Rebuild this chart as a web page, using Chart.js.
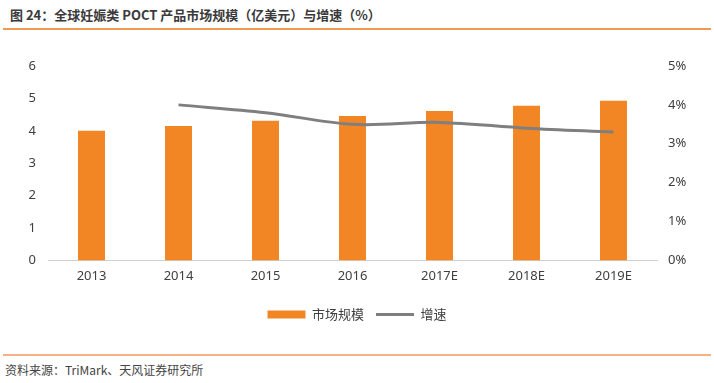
<!DOCTYPE html>
<html>
<head>
<meta charset="utf-8">
<script src="https://cdn.jsdelivr.net/npm/chart.js@4.4.0/dist/chart.umd.min.js"></script>
<style>
  html, body { margin: 0; padding: 0; background: #fff; }
  body { width: 714px; height: 383px; position: relative; overflow: hidden; font-family: "Noto Sans CJK SC", "Noto Sans", sans-serif; }
  #title { position: absolute; left: 10px; top: 5px; font-size: 13px; font-weight: bold; color: #3a3a3a; white-space: nowrap; }
  #topline { position: absolute; left: 3px; top: 28px; width: 708px; height: 2px; background: #ef9a50; }
  #botline { position: absolute; left: 3px; top: 354px; width: 708px; height: 2px; background: #f3b184; }
  #source { position: absolute; left: 5px; top: 361px; font-size: 12px; color: #444; white-space: nowrap; }
  #wrap { position: absolute; left: 0; top: 40px; width: 714px; height: 295px; }
</style>
</head>
<body>
<div id="title">图 24：全球妊娠类 POCT 产品市场规模（亿美元）与增速（%）</div>
<div id="topline"></div>
<div id="wrap"><canvas id="c"></canvas></div>
<div id="botline"></div>
<div id="source">资料来源：TriMark、天风证券研究所</div>
<script>
const categories = ["2013", "2014", "2015", "2016", "2017E", "2018E", "2019E"];
const marketSize = [4.0, 4.15, 4.31, 4.46, 4.61, 4.77, 4.93];
const growthRate = [null, 4.0, 3.8, 3.5, 3.55, 3.4, 3.3];
const seriesNames = ["市场规模", "增速"];

new Chart(document.getElementById("c"), {
  data: {
    labels: categories,
    datasets: [
      {
        type: "line",
        label: seriesNames[1],
        data: growthRate,
        yAxisID: "y1",
        borderColor: "#7f7f7f",
        backgroundColor: "#7f7f7f",
        borderWidth: 3,
        pointRadius: 0,
        tension: 0.35,
        pointStyle: "line",
        order: 0
      },
      {
        type: "bar",
        label: seriesNames[0],
        data: marketSize,
        yAxisID: "y",
        backgroundColor: "#f28625",
        borderWidth: 0,
        categoryPercentage: 1,
        barPercentage: 0.31,
        pointStyle: "rect",
        order: 1
      }
    ]
  },
  options: {
    responsive: true,
    maintainAspectRatio: false,
    animation: false,
    layout: { padding: { top: 26, left: 0, right: 0, bottom: 4 } },
    plugins: {
      tooltip: { enabled: false },
      legend: {
        position: "bottom",
        reverse: true,
        labels: {
          usePointStyle: true,
          pointStyleWidth: 38,
          boxHeight: 8,
          color: "#404040",
          font: { family: "'Noto Sans CJK SC', 'Noto Sans', sans-serif", size: 13 },
          padding: 12
        }
      }
    },
    scales: {
      x: {
        grid: { display: false, drawTicks: false },
        border: { display: true, color: "#d0d0d0", width: 1 },
        ticks: { color: "#404040", padding: 8, font: { family: "'Noto Sans', sans-serif", size: 13 } },
        afterFit: s => { s.height += 4; }
      },
      y: {
        position: "left",
        min: 0, max: 6,
        grid: { display: false, drawTicks: false },
        border: { display: false },
        ticks: { stepSize: 1, padding: 12, color: "#404040", font: { family: "'Noto Sans', sans-serif", size: 13 } },
        afterFit: s => { s.width = 48; }
      },
      y1: {
        position: "right",
        min: 0, max: 5,
        grid: { display: false, drawTicks: false },
        border: { display: false },
        ticks: { stepSize: 1, padding: 11, color: "#404040", font: { family: "'Noto Sans', sans-serif", size: 13 },
          callback: v => v + "%" },
        afterFit: s => { s.width = 57; }
      }
    }
  }
});
</script>
</body>
</html>
